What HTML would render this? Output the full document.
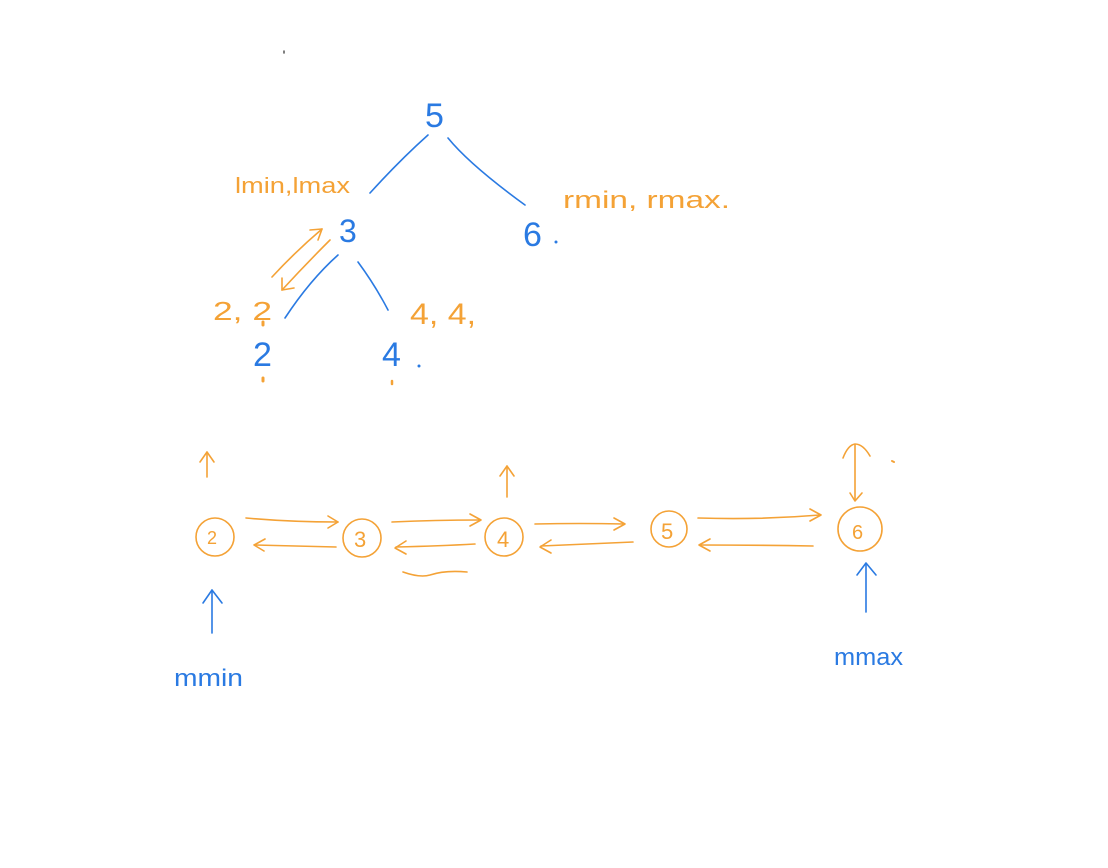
<!DOCTYPE html>
<html><head><meta charset="utf-8"><style>
html,body{margin:0;padding:0;background:#fff;}
svg{display:block}
text{font-family:"Liberation Sans",sans-serif;}
</style></head><body>
<svg width="1108" height="868" viewBox="0 0 1108 868" xmlns="http://www.w3.org/2000/svg">
<g fill="none" stroke-linecap="round" stroke-linejoin="round" stroke-width="1.6">
<g stroke="#2a7ae2">
<path d="M428 135 Q400 160 370 193"/>
<path d="M448 138 Q470 165 525 205"/>
<path d="M338 255 Q310 280 285 318"/>
<path d="M358 262 Q375 285 388 310"/>
<path d="M212 590 L212 633"/><path d="M203 603 L212 590 L222 603"/>
<path d="M866 565 L866 612"/><path d="M857 575 L866 563 L876 575"/>
</g>
<g stroke="#f4a236">
<path d="M272 277 Q295 252 322 229"/><path d="M310 230 L322 229 L318 240"/>
<path d="M330 240 Q305 265 282 290"/><path d="M282 278 L282 290 L294 288"/>
<path d="M263 322 l0 3" stroke-width="3"/>
<path d="M263 378 l0 3" stroke-width="3"/>
<path d="M392 381 l0 3" stroke-width="2.5"/>
</g>
<g stroke="#f4a236">
<circle cx="215" cy="537" r="19"/>
<circle cx="362" cy="538" r="19"/>
<circle cx="504" cy="537" r="19"/>
<circle cx="669" cy="529" r="18"/>
<circle cx="860" cy="529" r="22"/>
<path d="M207 477 L207 452"/><path d="M200 462 L207 452 L214 462"/>
<path d="M507 497 L507 466"/><path d="M500 476 L507 466 L514 476"/>
<path d="M855 500 L855 445"/><path d="M843 458 Q848 445 855 444 Q863 444 870 456"/>
<path d="M850 493 L855 501 L862 493"/>
<path d="M892 461 l2 1" stroke-width="2"/>
<path d="M246 518 Q290 522 338 522"/><path d="M328 516 L338 522 L328 528"/>
<path d="M336 547 Q300 546 255 545"/><path d="M265 539 L254 545 L264 551"/>
<path d="M392 522 Q435 520 480 520"/><path d="M470 514 L481 520 L470 526"/>
<path d="M475 544 Q440 546 396 547"/><path d="M406 541 L395 548 L406 554"/>
<path d="M403 572 Q420 578 430 575 Q445 570 467 572"/>
<path d="M535 524 Q580 523 624 524"/><path d="M614 518 L625 524 L614 530"/>
<path d="M633 542 Q590 544 541 546"/><path d="M551 540 L540 547 L551 553"/>
<path d="M698 518 Q760 520 820 515"/><path d="M810 509 L821 515 L810 521"/>
<path d="M813 546 Q760 545 700 545"/><path d="M710 539 L699 545 L710 551"/>
<path d="M284 51 l0 2" stroke="#555" stroke-width="1.5"/>
</g>
</g>
<g fill="#2a7ae2" font-size="34">
<text x="425" y="127">5</text>
<text x="339" y="242" font-size="32">3</text>
<text x="523" y="246">6</text>
<text x="253" y="366">2</text>
<text x="382" y="366">4</text>
<circle cx="419" cy="366" r="1.5"/><circle cx="556" cy="242" r="1.5"/>
<text x="174" y="686" font-size="24" textLength="69" lengthAdjust="spacingAndGlyphs">mmin</text>
<text x="834" y="665" font-size="24" textLength="69" lengthAdjust="spacingAndGlyphs">mmax</text>
</g>
<g fill="#f4a236">
<text x="235" y="193" font-size="22" textLength="115" lengthAdjust="spacingAndGlyphs">lmin,lmax</text>
<text x="563" y="208" font-size="24" textLength="167" lengthAdjust="spacingAndGlyphs">rmin, rmax.</text>
<text x="213" y="320" font-size="26" textLength="59" lengthAdjust="spacingAndGlyphs">2, 2</text>
<text x="410" y="324" font-size="30" textLength="66" lengthAdjust="spacingAndGlyphs">4, 4,</text>
<text x="207" y="544" font-size="18">2</text>
<text x="354" y="547" font-size="22">3</text>
<text x="497" y="547" font-size="22">4</text>
<text x="661" y="539" font-size="22">5</text>
<text x="852" y="539" font-size="20">6</text>
</g>
</svg>
</body></html>
